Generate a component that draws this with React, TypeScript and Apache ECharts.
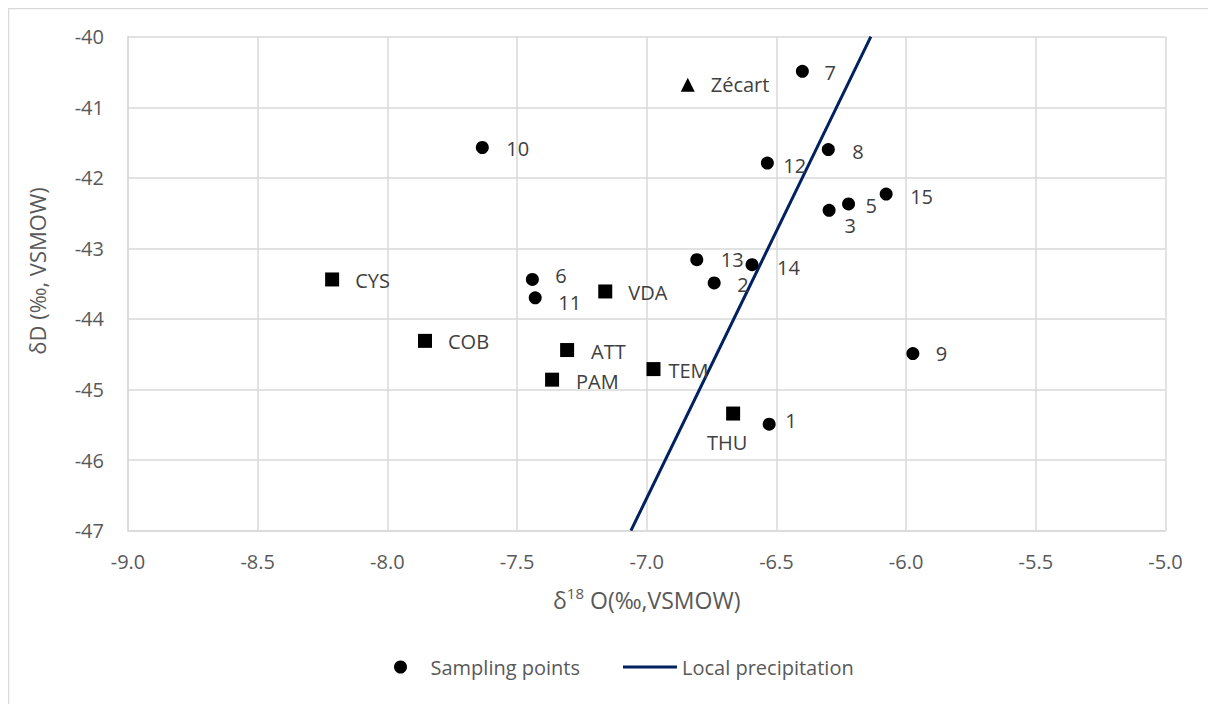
import React, { useEffect, useRef } from "react";
import * as echarts from "echarts";

// Sampling points (δ18O, δD)
const sampleIds = ["1", "2", "3", "5", "6", "7", "8", "9", "10", "11", "12", "13", "14", "15"];
const sampleO18 = [-6.528, -6.74, -6.297, -6.222, -7.441, -6.4, -6.3, -5.974, -7.634, -7.43, -6.535, -6.807, -6.594, -6.077];
const sampleD = [-45.49, -43.49, -42.46, -42.37, -43.44, -40.49, -41.6, -44.49, -41.57, -43.7, -41.79, -43.16, -43.23, -42.23];

// Sites (squares)
const siteNames = ["CYS", "COB", "VDA", "ATT", "PAM", "TEM", "THU"];
const siteO18 = [-8.213, -7.855, -7.16, -7.307, -7.365, -6.974, -6.667];
const siteD = [-43.44, -44.31, -43.61, -44.44, -44.86, -44.71, -45.34];

// Reference point (triangle)
const refNames = ["Zécart"];
const refO18 = [-6.842];
const refD = [-40.68];

// Local precipitation line
const lineO18 = [-7.061, -6.136];
const lineD = [-47, -40];

// Axis settings
const xMin = -9.0;
const xMax = -5.0;
const xStep = 0.5;
const yMin = -47;
const yMax = -40;
const yStep = 1;

// Label placement (style only)
type LP = { pos?: string; dist: number; dx?: number; dy?: number };
const labelPlace: Record<string, LP> = {
  "1": { dist: 9.5, dy: -4 },
  "2": { dist: 16.5, dy: 2 },
  "3": { dist: 9, dy: 15 },
  "5": { dist: 10.5, dy: 2 },
  "6": { dist: 16.5, dy: -4 },
  "7": { dist: 15.5, dy: 1 },
  "8": { dist: 17.5, dy: 2 },
  "9": { dist: 16.5, dy: 0 },
  "10": { dist: 17.5, dy: 1 },
  "11": { dist: 16.5, dy: 5 },
  "12": { dist: 9.5, dy: 2 },
  "13": { dist: 17.5, dy: 0 },
  "14": { dist: 18.5, dy: 3 },
  "15": { dist: 17.5, dy: 2 },
  CYS: { dist: 16, dy: 1 },
  COB: { dist: 16, dy: 1 },
  VDA: { dist: 16, dy: 1 },
  ATT: { dist: 17, dy: 1 },
  PAM: { dist: 17, dy: 2 },
  TEM: { dist: 8, dy: 1 },
  THU: { pos: "bottom", dist: 13, dx: -6, dy: 0 },
  "Zécart": { dist: 16, dy: 0 },
};

const FONT = "'Open Sans', 'Liberation Sans', sans-serif";
const LABEL_COLOR = "#404040";
const AXIS_TEXT = "#595959";
const GRID_COLOR = "#d9d9d9";
const LINE_COLOR = "#002060";

function buildPoints(names: string[], xs: number[], ys: number[]) {
  return names.map((n, i) => {
    const p = labelPlace[n] || { dist: 16 };
    return {
      name: n,
      value: [xs[i], ys[i]],
      label: {
        position: p.pos || "right",
        distance: p.dist,
        offset: [p.dx || 0, p.dy || 0],
      },
    };
  });
}

export default function App() {
  const ref = useRef<HTMLDivElement>(null);

  useEffect(() => {
    if (!ref.current) return;
    const chart = echarts.init(ref.current, undefined, { renderer: "svg" });
    const labelStyle = {
      show: true,
      formatter: "{b}",
      color: LABEL_COLOR,
      fontSize: 20,
      lineHeight: 18,
      fontFamily: FONT,
    };
    const markerStyle = { color: "#000000", opacity: 1 };
    chart.setOption({
      animation: false,
      backgroundColor: "#ffffff",
      textStyle: { fontFamily: FONT },
      grid: { left: 120, right: 50.5, top: 28.7, bottom: 173.3, containLabel: false },
      legend: [
        {
          data: [{ name: "Sampling points", icon: "circle" }],
          left: 386,
          top: 649,
          padding: 0,
          itemWidth: 50,
          itemHeight: 13,
          itemStyle: { opacity: 1, color: "#000000" },
          textStyle: { color: AXIS_TEXT, fontSize: 20, fontFamily: FONT },
          selectedMode: false,
        },
        {
          data: [{ name: "Local precipitation", icon: "rect" }],
          left: 615,
          top: 649,
          padding: 0,
          itemWidth: 54,
          itemHeight: 3,
          itemStyle: { color: LINE_COLOR },
          textStyle: { color: AXIS_TEXT, fontSize: 20, fontFamily: FONT },
          selectedMode: false,
        },
      ],
      xAxis: {
        type: "value",
        min: xMin,
        max: xMax,
        interval: xStep,
        name: "δ{sup|18} O(‰,VSMOW)",
        nameLocation: "middle",
        nameGap: 55,
        nameTextStyle: {
          color: AXIS_TEXT,
          fontSize: 23,
          fontFamily: FONT,
          lineHeight: 28,
          rich: {
            sup: { fontSize: 15, color: AXIS_TEXT, fontFamily: FONT, verticalAlign: "top", lineHeight: 28 },
          },
        },
        axisLine: { show: true, lineStyle: { color: GRID_COLOR, width: 1.5 } },
        axisTick: { show: false },
        axisLabel: {
          color: AXIS_TEXT,
          fontSize: 20,
          fontFamily: FONT,
          margin: 21,
          formatter: (v: number) => v.toFixed(1),
        },
        splitLine: { show: true, lineStyle: { color: GRID_COLOR, width: 1.5 } },
      },
      yAxis: {
        type: "value",
        min: yMin,
        max: yMax,
        interval: yStep,
        axisLine: { show: true, lineStyle: { color: GRID_COLOR, width: 1.5 } },
        axisTick: { show: false },
        axisLabel: {
          color: AXIS_TEXT,
          fontSize: 20,
          fontFamily: FONT,
          margin: 24,
          formatter: (v: number) => String(Math.round(v)),
        },
        splitLine: { show: true, lineStyle: { color: GRID_COLOR, width: 1.5 } },
      },
      graphic: [
        { type: "line", shape: { x1: 0.5, y1: 0, x2: 0.5, y2: 696 }, style: { stroke: GRID_COLOR, lineWidth: 1.5 }, silent: true },
        { type: "line", shape: { x1: 0, y1: 0.5, x2: 1208, y2: 0.5 }, style: { stroke: GRID_COLOR, lineWidth: 1.5 }, silent: true },
        {
          type: "text",
          x: 29,
          y: 263,
          rotation: Math.PI / 2,
          style: {
            text: "δD (‰, VSMOW)",
            fill: AXIS_TEXT,
            fontSize: 22,
            fontFamily: FONT,
            textAlign: "center",
            textVerticalAlign: "middle",
          },
          silent: true,
        },
      ],
      series: [
        {
          name: "Sampling points",
          type: "scatter",
          symbol: "circle",
          symbolSize: 13,
          itemStyle: markerStyle,
          label: labelStyle,
          data: buildPoints(sampleIds, sampleO18, sampleD),
          z: 3,
        },
        {
          name: "Sites",
          type: "scatter",
          symbol: "rect",
          symbolSize: 14,
          itemStyle: markerStyle,
          label: labelStyle,
          data: buildPoints(siteNames, siteO18, siteD),
          z: 3,
        },
        {
          name: "Zécart",
          type: "scatter",
          symbol: "triangle",
          symbolSize: 14,
          itemStyle: markerStyle,
          label: labelStyle,
          data: buildPoints(refNames, refO18, refD),
          z: 3,
        },
        {
          name: "Local precipitation",
          type: "line",
          symbol: "none",
          showSymbol: false,
          lineStyle: { color: LINE_COLOR, width: 3 },
          itemStyle: { color: LINE_COLOR },
          data: lineO18.map((x, i) => [x, lineD[i]]),
          z: 2,
        },
      ],
    });
    return () => chart.dispose();
  }, []);

  return <div ref={ref} style={{ width: 1208, height: 696 }} />;
}
